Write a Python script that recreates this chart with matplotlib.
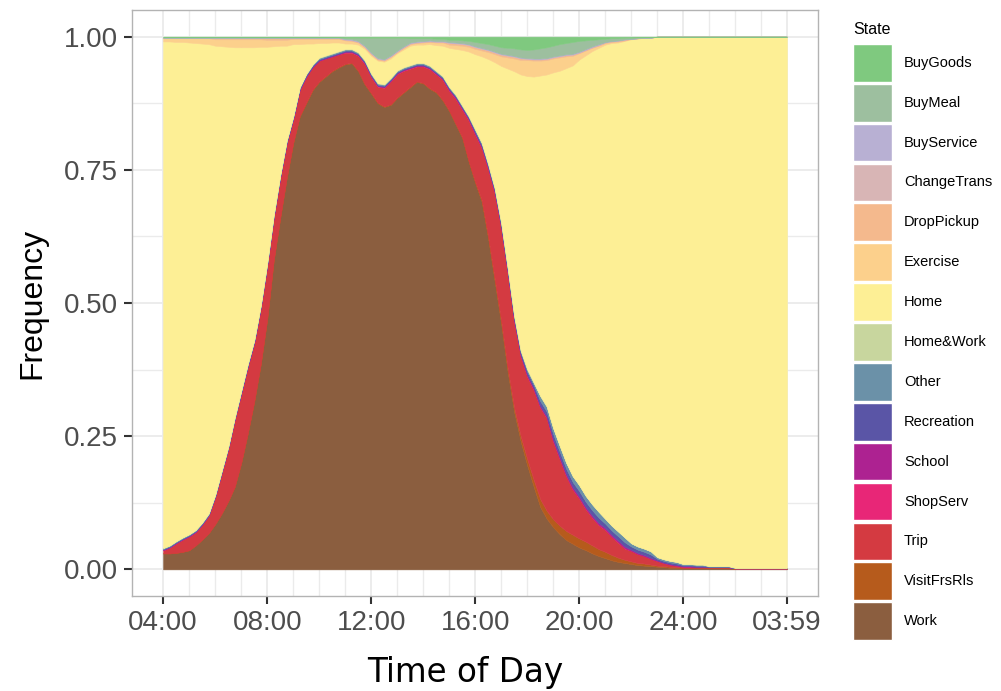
import numpy as np
import matplotlib.pyplot as plt
from matplotlib.patches import Patch

# 15-minute slots from 04:00 to 03:45 (96 values per state), one row = 3 hours
work = [
    0.030, 0.030, 0.031, 0.033, 0.036, 0.045, 0.056, 0.068, 0.085, 0.105, 0.128, 0.155,
    0.200, 0.255, 0.315, 0.385, 0.470, 0.580, 0.660, 0.735, 0.800, 0.850, 0.875, 0.900,
    0.915, 0.925, 0.935, 0.942, 0.948, 0.950, 0.935, 0.910, 0.893, 0.875, 0.868, 0.872,
    0.885, 0.895, 0.905, 0.915, 0.912, 0.902, 0.895, 0.880, 0.860, 0.835, 0.810, 0.765,
    0.725, 0.690, 0.620, 0.540, 0.460, 0.370, 0.295, 0.240, 0.195, 0.155, 0.117, 0.095,
    0.079, 0.066, 0.055, 0.048, 0.041, 0.036, 0.030, 0.025, 0.021, 0.017, 0.014, 0.012,
    0.010, 0.008, 0.007, 0.006, 0.005, 0.004, 0.003, 0.003, 0.002, 0.002, 0.002, 0.002,
    0.002, 0.002, 0.002, 0.002, 0.001, 0.001, 0.001, 0.001, 0.001, 0.001, 0.001, 0.001,
]
visit = [
    0.000, 0.000, 0.000, 0.000, 0.000, 0.000, 0.000, 0.000, 0.000, 0.000, 0.000, 0.000,
    0.000, 0.000, 0.000, 0.000, 0.000, 0.000, 0.000, 0.000, 0.001, 0.001, 0.001, 0.001,
    0.001, 0.001, 0.001, 0.001, 0.001, 0.001, 0.001, 0.001, 0.001, 0.001, 0.001, 0.001,
    0.001, 0.001, 0.001, 0.001, 0.001, 0.001, 0.001, 0.001, 0.001, 0.001, 0.001, 0.001,
    0.002, 0.003, 0.004, 0.005, 0.006, 0.007, 0.008, 0.010, 0.012, 0.013, 0.015, 0.015,
    0.015, 0.016, 0.017, 0.017, 0.017, 0.016, 0.015, 0.013, 0.012, 0.010, 0.008, 0.006,
    0.005, 0.004, 0.004, 0.003, 0.002, 0.002, 0.002, 0.001, 0.001, 0.001, 0.001, 0.001,
    0.001, 0.001, 0.001, 0.001, 0.000, 0.000, 0.000, 0.000, 0.000, 0.000, 0.000, 0.000,
]
trip = [
    0.006, 0.011, 0.018, 0.023, 0.026, 0.025, 0.028, 0.033, 0.051, 0.076, 0.098, 0.126,
    0.130, 0.125, 0.110, 0.105, 0.100, 0.080, 0.075, 0.065, 0.044, 0.049, 0.049, 0.042,
    0.039, 0.033, 0.027, 0.024, 0.021, 0.019, 0.028, 0.038, 0.030, 0.030, 0.035, 0.043,
    0.044, 0.040, 0.034, 0.028, 0.031, 0.036, 0.033, 0.038, 0.037, 0.047, 0.052, 0.077,
    0.089, 0.098, 0.127, 0.161, 0.174, 0.178, 0.162, 0.150, 0.155, 0.169, 0.172, 0.174,
    0.146, 0.125, 0.103, 0.085, 0.075, 0.061, 0.052, 0.045, 0.041, 0.034, 0.028, 0.021,
    0.020, 0.017, 0.014, 0.011, 0.009, 0.006, 0.004, 0.003, 0.002, 0.002, 0.001, 0.001,
    0.001, 0.001, 0.001, 0.001, 0.001, 0.001, 0.001, 0.001, 0.001, 0.001, 0.001, 0.001,
]
shopserv = [0.000] * 28 + [0.001] * 44 + [0.000] * 24
school = [0.001] * 44 + [0.002] * 16 + [0.003] * 12 + [0.002] * 4 + [0.001] * 8 + [0.000] * 12
recreation = [
    0.001, 0.001, 0.001, 0.001, 0.001, 0.001, 0.001, 0.001, 0.001, 0.001, 0.001, 0.001,
    0.002, 0.002, 0.002, 0.002, 0.002, 0.002, 0.002, 0.002, 0.002, 0.002, 0.002, 0.002,
    0.002, 0.002, 0.002, 0.002, 0.002, 0.002, 0.002, 0.002, 0.002, 0.002, 0.002, 0.002,
    0.002, 0.002, 0.002, 0.002, 0.002, 0.002, 0.002, 0.002, 0.002, 0.002, 0.002, 0.002,
    0.003, 0.003, 0.003, 0.003, 0.004, 0.004, 0.004, 0.004, 0.006, 0.006, 0.009, 0.009,
    0.010, 0.010, 0.010, 0.010, 0.010, 0.010, 0.010, 0.010, 0.008, 0.008, 0.008, 0.008,
    0.006, 0.006, 0.006, 0.006, 0.003, 0.003, 0.003, 0.003, 0.002, 0.002, 0.002, 0.002,
    0.001, 0.001, 0.001, 0.001, 0.000, 0.000, 0.000, 0.000, 0.000, 0.000, 0.000, 0.000,
]
other = [
    0.002, 0.002, 0.002, 0.002, 0.002, 0.002, 0.002, 0.002, 0.002, 0.002, 0.002, 0.002,
    0.002, 0.002, 0.002, 0.002, 0.002, 0.002, 0.002, 0.002, 0.002, 0.002, 0.002, 0.002,
    0.002, 0.002, 0.002, 0.002, 0.002, 0.002, 0.002, 0.002, 0.002, 0.002, 0.002, 0.002,
    0.002, 0.002, 0.002, 0.002, 0.002, 0.002, 0.002, 0.002, 0.002, 0.002, 0.002, 0.002,
    0.003, 0.003, 0.003, 0.003, 0.003, 0.003, 0.003, 0.003, 0.004, 0.004, 0.009, 0.009,
    0.011, 0.011, 0.011, 0.011, 0.011, 0.011, 0.011, 0.011, 0.009, 0.009, 0.009, 0.009,
    0.006, 0.006, 0.006, 0.006, 0.003, 0.003, 0.003, 0.003, 0.002, 0.002, 0.002, 0.002,
    0.001, 0.001, 0.001, 0.001, 0.001, 0.001, 0.001, 0.001, 0.001, 0.001, 0.001, 0.001,
]
homework = [0.000] * 24 + [0.001] * 36 + [0.000] * 36
exercise = [
    0.006, 0.006, 0.007, 0.007, 0.008, 0.009, 0.010, 0.011, 0.012, 0.013, 0.014, 0.015,
    0.015, 0.015, 0.015, 0.014, 0.013, 0.012, 0.011, 0.011, 0.010, 0.010, 0.009, 0.009,
    0.008, 0.008, 0.007, 0.007, 0.006, 0.005, 0.004, 0.003, 0.003, 0.002, 0.002, 0.003,
    0.002, 0.003, 0.003, 0.003, 0.004, 0.004, 0.005, 0.006, 0.006, 0.007, 0.008, 0.009,
    0.010, 0.011, 0.013, 0.015, 0.018, 0.021, 0.024, 0.027, 0.030, 0.030, 0.028, 0.027,
    0.026, 0.025, 0.022, 0.018, 0.012, 0.009, 0.006, 0.004, 0.003, 0.002, 0.002, 0.001,
    0.001, 0.001, 0.000, 0.000, 0.000, 0.000, 0.000, 0.000, 0.000, 0.000, 0.000, 0.000,
    0.000, 0.000, 0.000, 0.000, 0.000, 0.000, 0.000, 0.000, 0.000, 0.000, 0.000, 0.000,
]
droppickup = [0.001] * 8 + [0.003] * 12 + [0.001] * 24 + [0.003] * 12 + [0.002] * 8 + [0.001] * 8 + [0.000] * 24
changetrans = [0.000] * 16 + [0.001] * 56 + [0.000] * 24
buyservice = [0.000] * 28 + [0.001] * 40 + [0.000] * 28
buymeal = [
    0.001, 0.001, 0.001, 0.001, 0.001, 0.001, 0.001, 0.001, 0.001, 0.001, 0.001, 0.001,
    0.001, 0.001, 0.001, 0.001, 0.001, 0.001, 0.001, 0.001, 0.001, 0.001, 0.001, 0.001,
    0.001, 0.001, 0.001, 0.001, 0.002, 0.003, 0.006, 0.015, 0.028, 0.038, 0.040, 0.033,
    0.024, 0.016, 0.008, 0.006, 0.005, 0.004, 0.004, 0.004, 0.004, 0.005, 0.005, 0.006,
    0.008, 0.009, 0.010, 0.011, 0.012, 0.013, 0.014, 0.015, 0.015, 0.017, 0.019, 0.020,
    0.020, 0.021, 0.021, 0.022, 0.020, 0.016, 0.012, 0.009, 0.006, 0.005, 0.004, 0.003,
    0.002, 0.002, 0.001, 0.001, 0.000, 0.000, 0.000, 0.000, 0.000, 0.000, 0.000, 0.000,
    0.000, 0.000, 0.000, 0.000, 0.000, 0.000, 0.000, 0.000, 0.000, 0.000, 0.000, 0.000,
]
buygoods = [
    0.001, 0.001, 0.001, 0.001, 0.001, 0.001, 0.001, 0.001, 0.001, 0.001, 0.001, 0.001,
    0.001, 0.001, 0.001, 0.001, 0.001, 0.001, 0.001, 0.001, 0.001, 0.001, 0.001, 0.001,
    0.001, 0.001, 0.001, 0.001, 0.002, 0.002, 0.002, 0.002, 0.002, 0.002, 0.002, 0.002,
    0.002, 0.002, 0.003, 0.003, 0.003, 0.003, 0.004, 0.004, 0.006, 0.006, 0.007, 0.008,
    0.010, 0.012, 0.014, 0.017, 0.020, 0.021, 0.022, 0.024, 0.025, 0.024, 0.022, 0.020,
    0.017, 0.014, 0.012, 0.010, 0.008, 0.007, 0.006, 0.005, 0.004, 0.003, 0.003, 0.002,
    0.002, 0.001, 0.001, 0.001, 0.000, 0.000, 0.000, 0.000, 0.000, 0.000, 0.000, 0.000,
    0.000, 0.000, 0.000, 0.000, 0.000, 0.000, 0.000, 0.000, 0.000, 0.000, 0.000, 0.000,
]

states = ['BuyGoods', 'BuyMeal', 'BuyService', 'ChangeTrans', 'DropPickup', 'Exercise',
          'Home', 'Home&Work', 'Other', 'Recreation', 'School', 'ShopServ', 'Trip',
          'VisitFrsRls', 'Work']
colors = ['#7fc97f', '#9dbf9f', '#b8b0d3', '#d8b5b5', '#f4b98d', '#fcd08c',
          '#fdef95', '#c8d69e', '#6b91a8', '#5a55a6', '#ad2291', '#e82677', '#d43a41',
          '#b65b1c', '#8b5e3f']

tick_pos = [4, 8, 12, 16, 20, 24, 27 + 59 / 60]
tick_labels = ['04:00', '08:00', '12:00', '16:00', '20:00', '24:00', '03:59']

series = {
    'BuyGoods': buygoods, 'BuyMeal': buymeal, 'BuyService': buyservice,
    'ChangeTrans': changetrans, 'DropPickup': droppickup, 'Exercise': exercise,
    'Home&Work': homework, 'Other': other, 'Recreation': recreation, 'School': school,
    'ShopServ': shopserv, 'Trip': trip, 'VisitFrsRls': visit, 'Work': work,
}
series = {k: np.array(v) for k, v in series.items()}
# whatever is left of each time slot is spent at home
series['Home'] = 1 - sum(series.values())

# slot start times in hours, plus the end of the day (03:59)
x = np.append(4 + np.arange(96) * 0.25, tick_pos[-1])

fig = plt.figure(figsize=(10.01, 6.91), dpi=100)
ax = fig.add_axes([132 / 1001, 1 - 596 / 691, 686 / 1001, 586 / 691])

bottom = np.zeros(96)
for name, col in zip(states[::-1], colors[::-1]):
    top = bottom + series[name]
    ax.fill_between(x, np.append(bottom, bottom[-1]), np.append(top, top[-1]),
                    color=col, lw=0.4, zorder=2)
    bottom = top

span = tick_pos[-1] - tick_pos[0]
ax.set_xlim(tick_pos[0] - 0.05 * span, tick_pos[-1] + 0.05 * span)
ax.set_ylim(-0.05, 1.05)

ax.set_xticks(tick_pos)
ax.set_xticklabels(tick_labels)
ax.set_xticks([h for h in range(5, 28) if h not in tick_pos], minor=True)
ax.set_yticks([0, 0.25, 0.5, 0.75, 1.0])
ax.set_yticklabels(['0.00', '0.25', '0.50', '0.75', '1.00'])
ax.set_yticks([0.125, 0.375, 0.625, 0.875], minor=True)

ax.set_axisbelow(True)
ax.grid(True, which='major', color='#ebebeb', lw=1.3, zorder=0)
ax.grid(True, which='minor', color='#ebebeb', lw=1.0, zorder=0)
for s in ax.spines.values():
    s.set_color('#b3b3b3')
    s.set_linewidth(1.0)

ax.tick_params(which='major', length=6, width=1.5, color='#333333',
               labelsize=20, labelcolor='#4d4d4d', pad=4)
ax.tick_params(which='minor', length=0)
for lab in ax.get_xticklabels() + ax.get_yticklabels():
    lab.set_fontfamily('Liberation Sans')

ax.set_ylabel('Frequency', fontsize=23, family='Liberation Sans', labelpad=12)
fig.text(465 / 1001, 9 / 691, 'Time of Day', fontsize=23.5, family='DejaVu Sans',
         ha='center', va='baseline')

handles = [Patch(facecolor=c, edgecolor='white', lw=1) for c in colors]
leg = fig.legend(handles, states, loc='upper left', bbox_to_anchor=(853 / 1001, 1 - 22 / 691),
                 frameon=False, title='State', title_fontsize=11.5,
                 handlelength=2.7, handleheight=3.6, labelspacing=0.15,
                 handletextpad=0.8, borderpad=0, borderaxespad=0, alignment='left',
                 prop={'family': 'Liberation Sans', 'size': 10.5})
leg.get_title().set_fontfamily('Liberation Sans')
leg._legend_box.sep = 5

fig.savefig('out.png', dpi=100)
